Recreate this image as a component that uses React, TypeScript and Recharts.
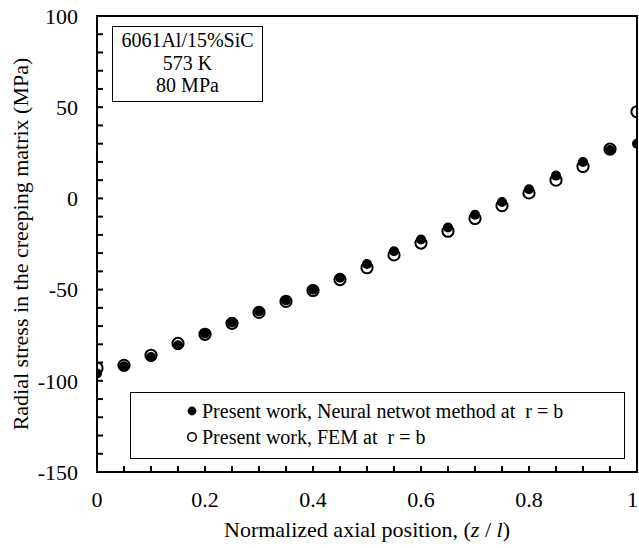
import React from 'react';
import { ScatterChart, Scatter, XAxis, YAxis, ReferenceArea, Legend, Label } from 'recharts';

const zPos = [0, 0.05, 0.1, 0.15, 0.2, 0.25, 0.3, 0.35, 0.4, 0.45, 0.5, 0.55, 0.6, 0.65, 0.7, 0.75, 0.8, 0.85, 0.9, 0.95, 1];
const neuralStress = [-96, -92, -87, -80.5, -74, -68, -62, -56, -50, -43.5, -36, -29, -22.5, -16, -9, -2, 5, 12.5, 20, 26.5, 30];
const femStress = [-93, -91.5, -86, -79.5, -74.5, -68.5, -62.5, -56.5, -50.5, -44.5, -38, -31, -24.5, -18, -11, -4, 3, 10, 17.5, 27, 47.5];

const xTicks = [0, 0.05, 0.1, 0.15, 0.2, 0.25, 0.3, 0.35, 0.4, 0.45, 0.5, 0.55, 0.6, 0.65, 0.7, 0.75, 0.8, 0.85, 0.9, 0.95, 1];
const xLabelled = [0, 0.2, 0.4, 0.6, 0.8, 1];
const yTicks = [-150, -140, -130, -120, -110, -100, -90, -80, -70, -60, -50, -40, -30, -20, -10, 0, 10, 20, 30, 40, 50, 60, 70, 80, 90, 100];
const yLabelled = [-150, -100, -50, 0, 50, 100];

const seriesNames = ['Present work, Neural netwot method at \u00a0r = b', 'Present work, FEM at \u00a0r = b'];
const noteLines = ['6061Al/15%SiC', '573 K', '80 MPa'];

const neuralData = zPos.map((z, i) => ({ z, s: neuralStress[i] }));
const femData = zPos.map((z, i) => ({ z, s: femStress[i] }));

const FONT = "'Liberation Serif', 'Times New Roman', serif";

const FilledDot = (p: any) => <circle cx={p.cx} cy={p.cy} r={5} fill="#000" />;
const OpenDot = (p: any) => <circle cx={p.cx} cy={p.cy} r={5.6} fill="none" stroke="#000" strokeWidth={2} />;

// x tick: last label ("1") sits against the right edge like the original
const XTick = (p: any) => {
  const v = p.payload.value;
  if (!xLabelled.includes(v)) return null;
  const last = v === xLabelled[xLabelled.length - 1];
  return (
    <text
      x={last ? p.x + 1 : p.x}
      y={p.y}
      dy="0.71em"
      textAnchor={last ? 'end' : 'middle'}
      fontFamily={FONT}
      fontSize={22}
      fill="#000"
    >
      {String(v)}
    </text>
  );
};

const LegendBox = () => (
  <div
    style={{
      width: 495,
      height: 67,
      boxSizing: 'border-box',
      border: '1.5px solid #000',
      paddingTop: 5,
      paddingLeft: 55,
      fontFamily: FONT,
      fontSize: 20,
      color: '#000',
      background: '#fff',
    }}
  >
    {seriesNames.map((name, i) => (
      <div key={name} style={{ display: 'flex', alignItems: 'center', height: 26, lineHeight: '26px', whiteSpace: 'pre' }}>
        <svg width={12} height={12} style={{ marginRight: 4 }}>
          {i === 0 ? (
            <circle cx={6} cy={6} r={4.4} fill="#000" />
          ) : (
            <circle cx={6} cy={6} r={4.3} fill="none" stroke="#000" strokeWidth={1.6} />
          )}
        </svg>
        <span>{name}</span>
      </div>
    ))}
  </div>
);

const YTitle = (props: any) => {
  const vb = props.viewBox;
  const x = vb.x + 28;
  const y = vb.y + vb.height / 2;
  return (
    <text x={x} y={y} transform={`rotate(-90, ${x}, ${y})`} textAnchor="middle" fontFamily={FONT} fontSize={22} fill="#000">
      Radial stress in the creeping matrix (MPa)
    </text>
  );
};

const XTitle = (props: any) => {
  const vb = props.viewBox;
  return (
    <text x={vb.x + vb.width / 2} y={vb.y + 65} textAnchor="middle" fontFamily={FONT} fontSize={22} fill="#000">
      Normalized axial position, (<tspan fontStyle="italic">z</tspan> / <tspan fontStyle="italic">l</tspan>)
    </text>
  );
};

export default function App() {
  const tickStyle = { fontFamily: FONT, fontSize: 22, fill: '#000' };
  return (
    <div style={{ position: 'absolute', left: 0, top: 0, width: 639, height: 548, background: '#fff' }}>
      <ScatterChart width={639} height={548} margin={{ top: 16, right: 2, bottom: 0, left: 0 }}>
        <XAxis
          type="number"
          dataKey="z"
          domain={[0, 1]}
          ticks={xTicks}
          interval={0}
          height={76}
          tickSize={-6}
          tickMargin={25}
          tick={XTick}
          axisLine={{ stroke: '#000', strokeWidth: 2 }}
          tickLine={{ stroke: '#000', strokeWidth: 2 }}
          allowDataOverflow
        >
          <Label content={XTitle} />
        </XAxis>
        <YAxis
          type="number"
          dataKey="s"
          domain={[-150, 100]}
          ticks={yTicks}
          interval={0}
          width={97}
          tickSize={-6}
          tickMargin={25}
          tick={tickStyle}
          tickFormatter={(v: number) => (yLabelled.includes(v) ? String(v) : '')}
          axisLine={{ stroke: '#000', strokeWidth: 2 }}
          tickLine={{ stroke: '#000', strokeWidth: 2 }}
          allowDataOverflow
        >
          <Label content={YTitle} />
        </YAxis>
        <ReferenceArea x1={0} x2={1} y1={-150} y2={100} fill="none" stroke="#000" strokeWidth={2} />
        <Scatter name={seriesNames[1]} data={femData} shape={OpenDot} isAnimationActive={false} />
        <Scatter name={seriesNames[0]} data={neuralData} shape={FilledDot} isAnimationActive={false} />
        <Legend
          layout="vertical"
          align="center"
          verticalAlign="middle"
          content={LegendBox}
          wrapperStyle={{ left: 130, top: 392, width: 495, height: 67 }}
        />
      </ScatterChart>
      <div
        style={{
          position: 'absolute',
          left: 112,
          top: 26,
          width: 151,
          height: 76,
          boxSizing: 'border-box',
          border: '1.5px solid #000',
          paddingTop: 2,
          fontFamily: FONT,
          fontSize: 20,
          lineHeight: '22.5px',
          textAlign: 'center',
          color: '#000',
          background: '#fff',
        }}
      >
        {noteLines.map((t) => (
          <div key={t}>{t}</div>
        ))}
      </div>
    </div>
  );
}
